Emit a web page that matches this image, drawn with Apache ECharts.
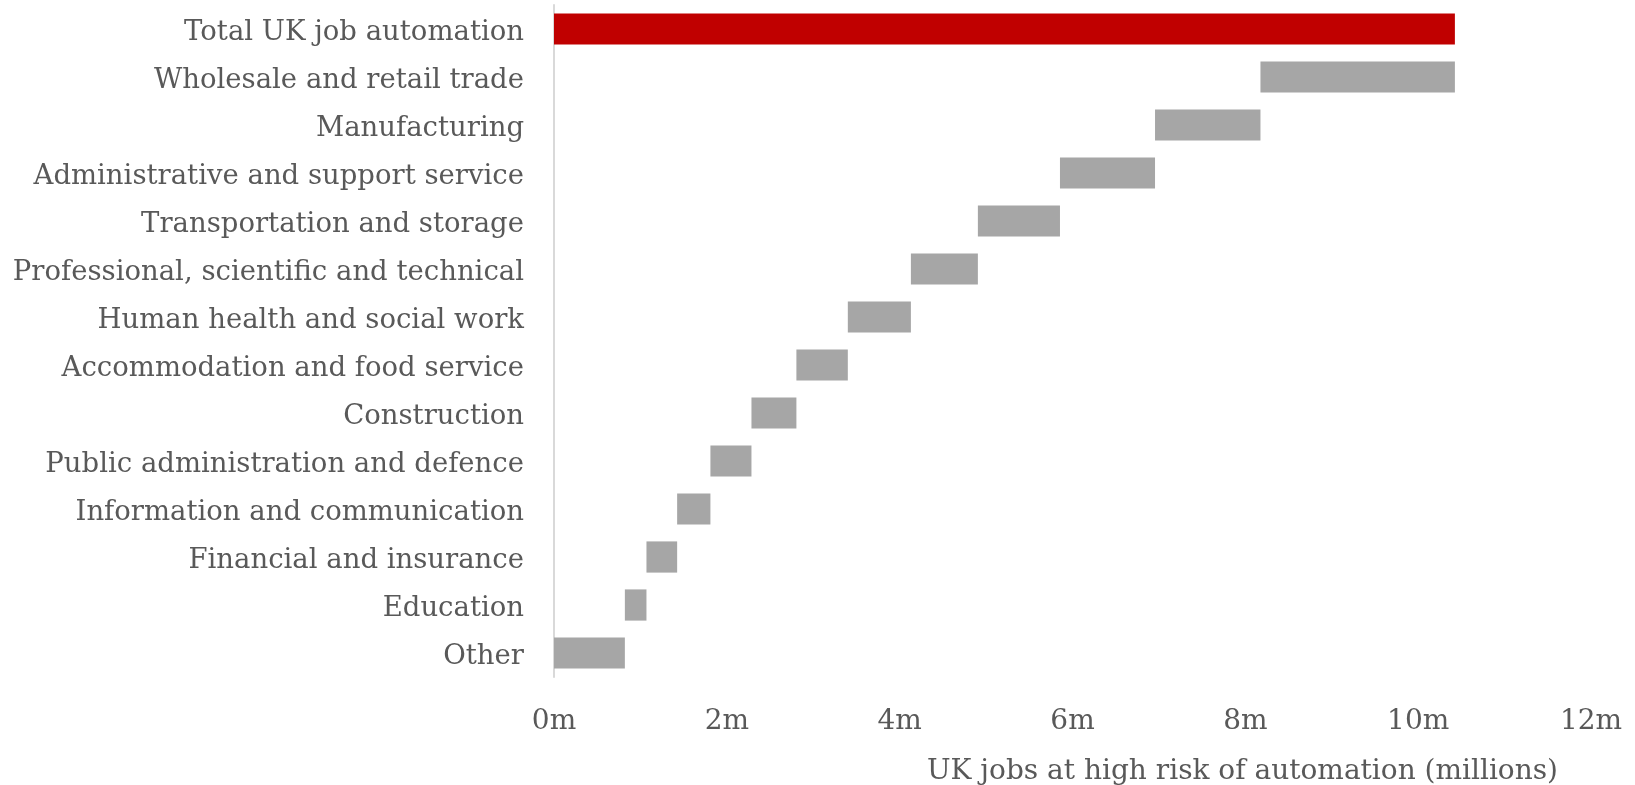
<!DOCTYPE html>
<html>
<head>
<meta charset="utf-8">
<script src="https://cdn.jsdelivr.net/npm/echarts@6/dist/echarts.min.js"></script>
<style>
  html, body { margin: 0; padding: 0; background: #ffffff; }
  #chart { width: 1635px; height: 785px; }
</style>
</head>
<body>
<div id="chart"></div>
<script>
// Sector rows, top to bottom; the first row is the overall total
const categories = [
  'Total UK job automation',
  'Wholesale and retail trade',
  'Manufacturing',
  'Administrative and support service',
  'Transportation and storage',
  'Professional, scientific and technical',
  'Human health and social work',
  'Accommodation and food service',
  'Construction',
  'Public administration and defence',
  'Information and communication',
  'Financial and insurance',
  'Education',
  'Other'
];

// Jobs at high risk of automation per sector (millions), same order as the sector rows
const sectorJobs = [2.25, 1.22, 1.10, 0.95, 0.775, 0.73, 0.595, 0.52, 0.475, 0.385, 0.355, 0.25, 0.82];

// Axis ticks (millions)
const tickValues = [0, 2, 4, 6, 8, 10, 12];

// Waterfall: each sector starts where the sectors below it end
const total = sectorJobs.reduce((a, b) => a + b, 0);
const offsets = [0];
const visible = [total];
for (let i = 0; i < sectorJobs.length; i++) {
  let below = 0;
  for (let j = i + 1; j < sectorJobs.length; j++) below += sectorJobs[j];
  offsets.push(below);
  visible.push(sectorJobs[i]);
}

const textColor = '#595959';
const fontFamily = 'DejaVu Serif';

const chart = echarts.init(document.getElementById('chart'), null, { renderer: 'canvas' });
chart.setOption({
  animation: false,
  backgroundColor: '#ffffff',
  grid: {
    left: 554, right: 44, top: 5, bottom: 108,
    containLabel: false,
    outerBoundsMode: 'none'
  },
  xAxis: {
    type: 'value',
    min: tickValues[0],
    max: tickValues[tickValues.length - 1],
    interval: 2,
    axisLine: { show: false },
    axisTick: { show: false },
    splitLine: { show: false },
    axisLabel: {
      color: textColor,
      fontFamily: fontFamily,
      fontSize: 28,
      margin: 31,
      formatter: v => v + 'm'
    },
    name: 'UK jobs at high risk of automation (millions)',
    nameLocation: 'middle',
    nameGap: 81,
    nameTextStyle: {
      color: textColor,
      fontFamily: fontFamily,
      fontSize: 28,
      padding: [0, 0, 0, 340]
    }
  },
  yAxis: {
    type: 'category',
    data: categories,
    inverse: true,
    axisLine: { show: true, lineStyle: { color: '#d9d9d9', width: 2 } },
    axisTick: { show: false },
    splitLine: { show: false },
    axisLabel: {
      color: textColor,
      fontFamily: fontFamily,
      fontSize: 27.5,
      margin: 30,
      formatter: v => '{c|' + v + '}',
      rich: {
        c: {
          color: textColor,
          fontFamily: fontFamily,
          fontSize: 27.5,
          padding: [7, 0, 0, 0]
        }
      }
    }
  },
  series: [
    {
      type: 'bar',
      stack: 'waterfall',
      data: offsets,
      itemStyle: { color: 'transparent' },
      barCategoryGap: '35%',
      silent: true
    },
    {
      type: 'bar',
      stack: 'waterfall',
      data: visible.map((v, i) => ({
        value: v,
        itemStyle: { color: i === 0 ? '#c00000' : '#a6a6a6' }
      })),
      barCategoryGap: '35%'
    }
  ]
});
</script>
</body>
</html>
